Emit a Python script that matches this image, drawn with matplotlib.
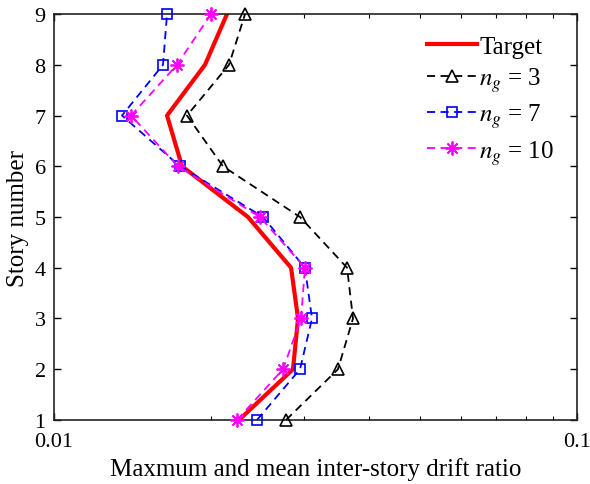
import matplotlib
matplotlib.use('Agg')
import matplotlib.pyplot as plt
from matplotlib.ticker import FixedLocator, FixedFormatter, NullFormatter

plt.rcParams['font.family'] = ['Liberation Serif', 'DejaVu Serif']
plt.rcParams['mathtext.fontset'] = 'stix'

# Story levels
stories = [1, 2, 3, 4, 5, 6, 7, 8, 9]

# Drift ratios, story 1 -> 9
target = [0.02258, 0.02864, 0.02928, 0.02840, 0.02349, 0.01757, 0.01645, 0.01944, 0.02142]
ng3 = [0.02777, 0.03491, 0.03730, 0.03634, 0.02954, 0.02104, 0.01796, 0.02161, 0.02319]
ng7 = [0.02444, 0.02954, 0.03114, 0.03019, 0.02510, 0.01741, 0.01349, 0.01616, 0.01645]
ng10 = [0.02238, 0.02741, 0.02967, 0.03019, 0.02477, 0.01726, 0.01404, 0.01719, 0.01996]

fig = plt.figure(figsize=(5.9, 4.85), dpi=100)
ax = fig.add_axes([0.0915, 0.132, 0.8865, 0.837])

dash = (0, (4.5, 3))
ax.plot(target, stories, color='red', lw=3, label='Target', zorder=2)
ax.plot(ng3, stories, color='black', ls=dash, lw=1.3, marker='^', ms=9, mfc='none', mew=1.2,
        label='$n_g$ = 3', clip_on=False, zorder=3)
ax.plot(ng7, stories, color='blue', ls=dash, lw=1.3, marker='s', ms=7.5, mfc='none', mew=1.2,
        label='$n_g$ = 7', clip_on=False, zorder=3)
ax.plot(ng10, stories, color='magenta', ls=dash, lw=1.3, marker=(8, 2, 0), ms=10, mew=1.3,
        label='$n_g$ = 10', clip_on=False, zorder=3)

ax.set_xscale('log')
ax.set_xlim(0.01, 0.1)
ax.set_ylim(1, 9)
ax.set_yticks(stories)
ax.xaxis.set_major_locator(FixedLocator([0.01, 0.1]))
ax.xaxis.set_major_formatter(FixedFormatter(['0.01', '0.1']))
ax.xaxis.set_minor_formatter(NullFormatter())

ax.tick_params(which='both', direction='in', top=True, right=True, labelsize=16)
ax.tick_params(which='major', length=5, width=1)
ax.tick_params(axis='x', which='major', pad=9)
ax.tick_params(axis='y', which='major', pad=6)
ax.tick_params(which='minor', length=3, width=0.8)
for s in ax.spines.values():
    s.set_linewidth(1.2)
    s.set_color('#222222')

ax.set_xlabel('Maxmum and mean inter-story drift ratio', fontsize=18, labelpad=4)
ax.set_ylabel('Story number', fontsize=18, labelpad=4)

ax.legend(loc='upper right', frameon=False, fontsize=18, handlelength=2.0,
          handletextpad=0.1, labelspacing=0.3, borderaxespad=0.2,
          bbox_to_anchor=(0.985, 0.985))

fig.savefig('out.png', dpi=100)
